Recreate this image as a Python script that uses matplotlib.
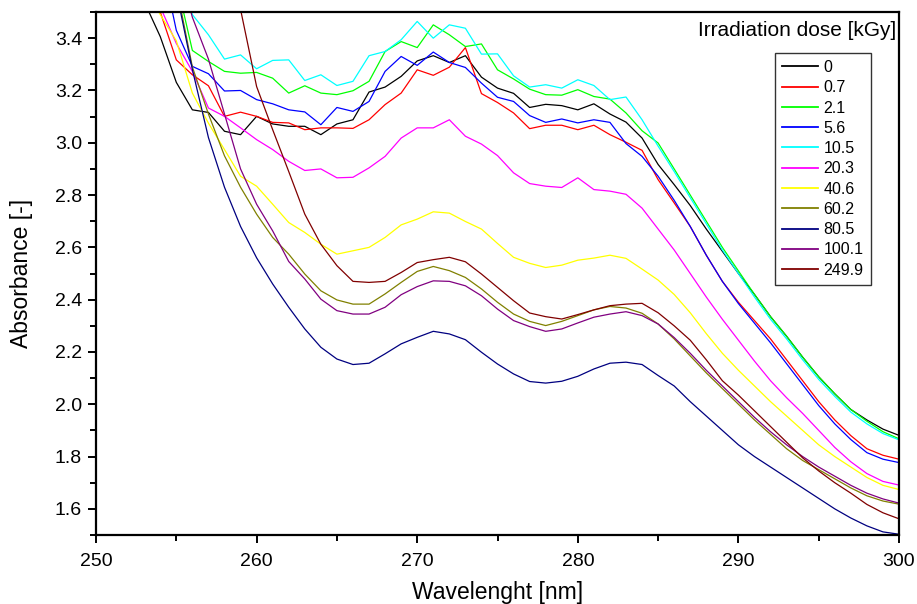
"""UV absorbance spectra for different irradiation doses (Origin-style)."""

import matplotlib

matplotlib.use("Agg")
import matplotlib.pyplot as plt
import numpy as np
from matplotlib.ticker import FormatStrFormatter, MultipleLocator

plt.rcParams["font.family"] = ["Liberation Sans", "DejaVu Sans"]

# ---------------------------------------------------------------------------
# Data (1 nm steps from 250 to 300 nm)
# ---------------------------------------------------------------------------

WAVELENGTH = list(range(250, 301))

DOSES = ["0", "0.7", "2.1", "5.6", "10.5", "20.3", "40.6", "60.2", "80.5", "100.1", "249.9"]

ABS_0 = [
    4.05, 3.87, 3.70, 3.54, 3.406, 3.231, 3.126, 3.116, 3.044, 3.031,
    3.101, 3.072, 3.063, 3.063, 3.031, 3.072, 3.088, 3.194, 3.213, 3.254,
    3.313, 3.333, 3.307, 3.333, 3.251, 3.209, 3.189, 3.135, 3.147, 3.142,
    3.126, 3.149, 3.110, 3.079, 3.018, 2.917, 2.84, 2.76, 2.67, 2.585,
    2.50, 2.42, 2.335, 2.26, 2.18, 2.105, 2.04, 1.98, 1.94, 1.905, 1.881,
]
ABS_0_7 = [
    4.3, 4.1, 3.9, 3.70, 3.50, 3.317, 3.260, 3.218, 3.101, 3.117,
    3.101, 3.078, 3.076, 3.05, 3.057, 3.057, 3.055, 3.088, 3.146, 3.190,
    3.279, 3.258, 3.289, 3.364, 3.188, 3.154, 3.114, 3.054, 3.067, 3.067,
    3.05, 3.067, 3.031, 3.002, 2.971, 2.859, 2.77, 2.68, 2.57, 2.47,
    2.39, 2.32, 2.25, 2.17, 2.09, 2.01, 1.94, 1.88, 1.83, 1.805, 1.79,
]
ABS_2_1 = [
    4.9, 4.6, 4.35, 4.1, 3.88, 3.62, 3.353, 3.311, 3.273, 3.266,
    3.269, 3.247, 3.19, 3.218, 3.19, 3.184, 3.199, 3.235, 3.349, 3.387,
    3.364, 3.451, 3.413, 3.368, 3.378, 3.279, 3.244, 3.205, 3.184, 3.182,
    3.203, 3.177, 3.167, 3.114, 3.046, 2.999, 2.90, 2.80, 2.70, 2.60,
    2.51, 2.42, 2.335, 2.26, 2.18, 2.105, 2.04, 1.98, 1.935, 1.895, 1.868,
]
ABS_5_6 = [
    4.75, 4.5, 4.25, 4.0, 3.72, 3.43, 3.292, 3.264, 3.198, 3.200,
    3.165, 3.149, 3.126, 3.118, 3.069, 3.135, 3.12, 3.158, 3.273, 3.330,
    3.296, 3.347, 3.307, 3.288, 3.228, 3.174, 3.158, 3.104, 3.078, 3.091,
    3.076, 3.088, 3.078, 2.997, 2.948, 2.872, 2.78, 2.68, 2.57, 2.47,
    2.385, 2.31, 2.235, 2.155, 2.075, 1.995, 1.925, 1.865, 1.815, 1.79, 1.777,
]
ABS_10_5 = [
    5.0, 4.7, 4.45, 4.2, 3.97, 3.73, 3.49, 3.413, 3.32, 3.336,
    3.283, 3.315, 3.317, 3.238, 3.26, 3.219, 3.235, 3.333, 3.349, 3.394,
    3.464, 3.40, 3.451, 3.438, 3.339, 3.34, 3.256, 3.213, 3.222, 3.209,
    3.241, 3.219, 3.165, 3.175, 3.088, 2.987, 2.89, 2.79, 2.69, 2.59,
    2.50, 2.41, 2.325, 2.25, 2.17, 2.095, 2.03, 1.97, 1.925, 1.888, 1.864,
]
ABS_20_3 = [
    4.2, 4.0, 3.85, 3.68, 3.52, 3.38, 3.273, 3.133, 3.101, 3.057,
    3.012, 2.974, 2.929, 2.894, 2.900, 2.866, 2.868, 2.904, 2.948, 3.018,
    3.057, 3.057, 3.088, 3.025, 2.995, 2.951, 2.885, 2.844, 2.834, 2.829,
    2.866, 2.821, 2.815, 2.803, 2.75, 2.67, 2.59, 2.50, 2.41, 2.325,
    2.245, 2.165, 2.09, 2.025, 1.965, 1.90, 1.835, 1.78, 1.735, 1.705, 1.691,
]
ABS_40_6 = [
    4.0, 3.85, 3.72, 3.6, 3.49, 3.39, 3.19, 3.075, 2.974, 2.872,
    2.834, 2.765, 2.695, 2.657, 2.612, 2.574, 2.587, 2.60, 2.638, 2.686,
    2.708, 2.736, 2.731, 2.699, 2.67, 2.615, 2.562, 2.539, 2.523, 2.532,
    2.551, 2.559, 2.57, 2.558, 2.517, 2.475, 2.42, 2.35, 2.27, 2.195,
    2.13, 2.07, 2.01, 1.955, 1.90, 1.845, 1.80, 1.76, 1.72, 1.69, 1.674,
]
ABS_60_2 = [
    5.0, 4.7, 4.4, 4.1, 3.85, 3.6, 3.29, 3.11, 2.95, 2.83,
    2.727, 2.638, 2.574, 2.498, 2.434, 2.399, 2.383, 2.383, 2.422, 2.466,
    2.508, 2.527, 2.511, 2.485, 2.441, 2.39, 2.345, 2.317, 2.301, 2.317,
    2.339, 2.361, 2.374, 2.368, 2.348, 2.307, 2.25, 2.185, 2.12, 2.06,
    2.0, 1.94, 1.885, 1.83, 1.785, 1.75, 1.715, 1.68, 1.65, 1.63, 1.618,
]
ABS_80_5 = [
    5.5, 5.1, 4.7, 4.3, 3.93, 3.58, 3.28, 3.02, 2.83, 2.68,
    2.56, 2.46, 2.371, 2.288, 2.218, 2.173, 2.152, 2.157, 2.193, 2.231,
    2.256, 2.279, 2.269, 2.247, 2.199, 2.154, 2.116, 2.087, 2.081, 2.088,
    2.107, 2.135, 2.157, 2.161, 2.152, 2.11, 2.07, 2.01, 1.955, 1.90,
    1.845, 1.80, 1.76, 1.72, 1.68, 1.64, 1.60, 1.565, 1.535, 1.512, 1.503,
]
ABS_100_1 = [
    5.3, 4.95, 4.6, 4.25, 3.95, 3.7, 3.48, 3.32, 3.11, 2.90,
    2.765, 2.663, 2.546, 2.479, 2.402, 2.358, 2.345, 2.345, 2.371, 2.419,
    2.45, 2.472, 2.47, 2.453, 2.415, 2.364, 2.32, 2.297, 2.279, 2.288,
    2.311, 2.333, 2.345, 2.354, 2.339, 2.307, 2.255, 2.195, 2.13, 2.07,
    2.01, 1.95, 1.895, 1.845, 1.80, 1.76, 1.725, 1.69, 1.66, 1.638, 1.622,
]
ABS_249_9 = [
    6.6, 6.2, 5.8, 5.4, 5.0, 4.6, 4.22, 3.95, 3.8, 3.51,
    3.215, 3.05, 2.89, 2.727, 2.612, 2.53, 2.47, 2.466, 2.47, 2.504,
    2.542, 2.553, 2.562, 2.545, 2.498, 2.447, 2.396, 2.349, 2.335, 2.326,
    2.343, 2.361, 2.377, 2.383, 2.386, 2.35, 2.30, 2.245, 2.17, 2.09,
    2.035, 1.975, 1.915, 1.855, 1.795, 1.745, 1.70, 1.66, 1.617, 1.585, 1.562,
]

SERIES = [
    ABS_0, ABS_0_7, ABS_2_1, ABS_5_6, ABS_10_5, ABS_20_3,
    ABS_40_6, ABS_60_2, ABS_80_5, ABS_100_1, ABS_249_9,
]

# Origin default colour cycle
COLORS = [
    "#000000", "#ff0000", "#00ff00", "#0000ff", "#00ffff", "#ff00ff",
    "#ffff00", "#808000", "#000080", "#800080", "#800000",
]


def main():
    fig = plt.figure(figsize=(9.17, 6.04), dpi=100)
    ax = fig.add_axes([0.1047, 0.1142, 0.8757, 0.8659])

    x = np.array(WAVELENGTH)
    for dose, ys, color in zip(DOSES, SERIES, COLORS):
        ax.plot(x, ys, color=color, linewidth=0.9, label=dose)

    ax.set_xlim(250, 300)
    ax.set_ylim(1.5, 3.5)
    ax.xaxis.set_major_locator(MultipleLocator(10))
    ax.xaxis.set_minor_locator(MultipleLocator(5))
    ax.yaxis.set_major_locator(MultipleLocator(0.2))
    ax.yaxis.set_minor_locator(MultipleLocator(0.1))
    ax.yaxis.set_major_formatter(FormatStrFormatter("%.1f"))

    for spine in ax.spines.values():
        spine.set_linewidth(1.6)
    ax.tick_params(which="both", direction="out", width=1.4, labelsize=14)
    ax.tick_params(which="major", length=6)
    ax.tick_params(which="minor", length=4)
    ax.tick_params(axis="x", pad=7)
    ax.tick_params(axis="y", pad=4)

    ax.set_xlabel("Wavelenght [nm]", fontsize=16.5)
    ax.set_ylabel("Absorbance [-]", fontsize=16.5)
    ax.xaxis.set_label_coords(0.5, -0.087)
    ax.yaxis.set_label_coords(-0.079, 0.5)

    ax.text(0.997, 0.965, "Irradiation dose [kGy]", transform=ax.transAxes,
            ha="right", va="center", fontsize=15)

    leg = ax.legend(
        loc="upper right",
        bbox_to_anchor=(0.965, 0.922),
        borderaxespad=0,
        fontsize=11.5,
        handlelength=2.25,
        handletextpad=0.37,
        labelspacing=0.33,
        fancybox=False,
        framealpha=1,
        edgecolor="#333333",
        borderpad=0.45,
    )
    leg.get_frame().set_linewidth(1.0)
    for line in leg.get_lines():
        line.set_linewidth(1.3)

    fig.savefig("out.png", dpi=100)
    plt.close(fig)


if __name__ == "__main__":
    main()
